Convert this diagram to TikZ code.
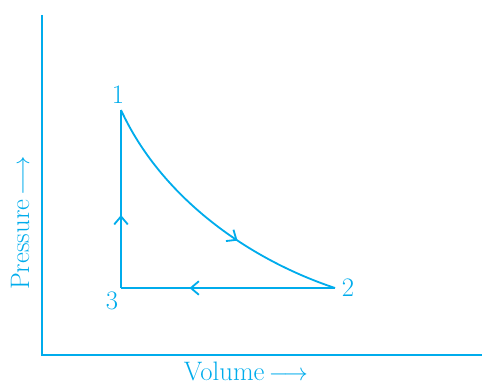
\documentclass[tikz,border=0pt]{standalone}
\usepackage{amsmath}
\usetikzlibrary{arrows.meta,decorations.markings}
\definecolor{ncyan}{RGB}{0,172,236}

\begin{document}
\begin{tikzpicture}[
    every node/.style={text=ncyan, font=\fontsize{19}{23}\selectfont},
    cycleline/.style={ncyan, line width=1.3pt},
    midarrow/.style={postaction={decorate, decoration={markings,
        mark=at position #1 with {\arrow{Straight Barb[length=0.2cm,width=0.34cm,line width=1.3pt]}}}}}
    ]
        \useasboundingbox (0,0) rectangle (12.05,9.675);
        % The axes.
            \coordinate (o) at (1.05,0.8);
            \coordinate (ytop) at (1.05,9.3);
            \coordinate (xend) at (12.05,0.8);
            \draw[cycleline] (ytop) -- (o) -- (xend);
        % The three states of the cycle.
            \coordinate (p1) at (3.025,6.925);
            \coordinate (p2) at (8.375,2.475);
            \coordinate (p3) at (3.025,2.475);
            \draw[cycleline, midarrow=0.62] (p1) .. controls (4.0,4.8) and (6.125,3.225) .. (p2);
            \draw[cycleline, midarrow=0.68] (p2) -- (p3);
            \draw[cycleline, midarrow=0.41] (p3) -- (p1);
        % Below nodes are the labels.
            \node (l1) at (2.95,7.3) {1};
            \node (l2) at (8.7,2.475) {2};
            \node (l3) at (2.8,2.15) {3};
            \node[rotate=90] (ylab) at (0.5,4.1) {Pressure\,$\longrightarrow$};
            \node[inner sep=0pt] (xlab) at (6.15,0.38) {Volume\,$\longrightarrow$};
    \end{tikzpicture}
\end{document}
